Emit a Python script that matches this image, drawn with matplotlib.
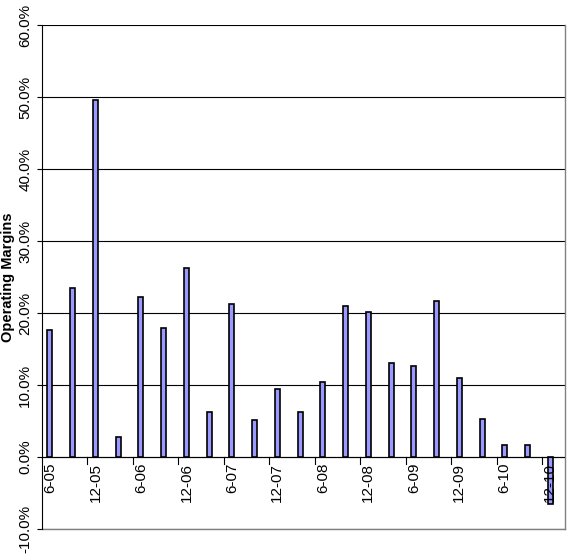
import numpy as np
import matplotlib.pyplot as plt
from matplotlib.ticker import PercentFormatter

quarters = ['6-05', '9-05', '12-05', '3-06', '6-06', '9-06', '12-06', '3-07', '6-07', '9-07',
            '12-07', '3-08', '6-08', '9-08', '12-08', '3-09', '6-09', '9-09', '12-09', '3-10',
            '6-10', '9-10', '12-10']
margins = [17.6, 23.5, 49.6, 2.8, 22.2, 17.9, 26.2, 6.3, 21.2, 5.1,
           9.4, 6.3, 10.4, 21.0, 20.1, 13.1, 12.6, 21.7, 11.0, 5.3,
           1.7, 1.7, -6.5]

plt.rcParams['font.family'] = ['Liberation Sans', 'DejaVu Sans']
plt.rcParams['axes.unicode_minus'] = False
fig = plt.figure(figsize=(5.72, 5.58), dpi=100)
ax = fig.add_axes([42/572, 1-529/558, 523/572, 504/558])

x = np.arange(len(quarters))
ax.bar(x, margins, width=0.22, color='#9999ff', edgecolor='black', linewidth=1.2, zorder=3)

ax.set_ylim(-10, 60)
ax.set_yticks(np.arange(-10, 61, 10))
ax.yaxis.set_major_formatter(PercentFormatter(decimals=1))
for t in ax.get_yticklabels():
    t.set_rotation(90)
    t.set_va('center')
ax.grid(axis='y', color='black', linewidth=0.8, zorder=0)
ax.set_xlim(-0.35, len(quarters) - 0.35)

# labels every other quarter just under the zero line, ticks between
ax.set_xticks([])
for i in x[::2]:
    ax.text(i, -0.8, quarters[i], rotation=90, ha='center', va='top', fontsize=11, zorder=5)
for b in np.arange(1.65, len(quarters), 2):
    ax.plot([b, b], [0, -1], color='black', lw=0.8, clip_on=False)
ax.axhline(0, color='black', lw=0.8, zorder=4)
ax.tick_params(axis='y', labelsize=11)

ax.set_ylabel('Operating Margins', fontweight='bold', fontsize=10.5, labelpad=2)
for s in ['top', 'right', 'bottom']:
    ax.spines[s].set_visible(False)
ax.plot([1, 1], [0, 1], transform=ax.transAxes, color='gray', lw=1, clip_on=False)
ax.plot([0, 1], [0, 0], transform=ax.transAxes, color='gray', lw=1, clip_on=False)

fig.savefig('out.png', dpi=100)
